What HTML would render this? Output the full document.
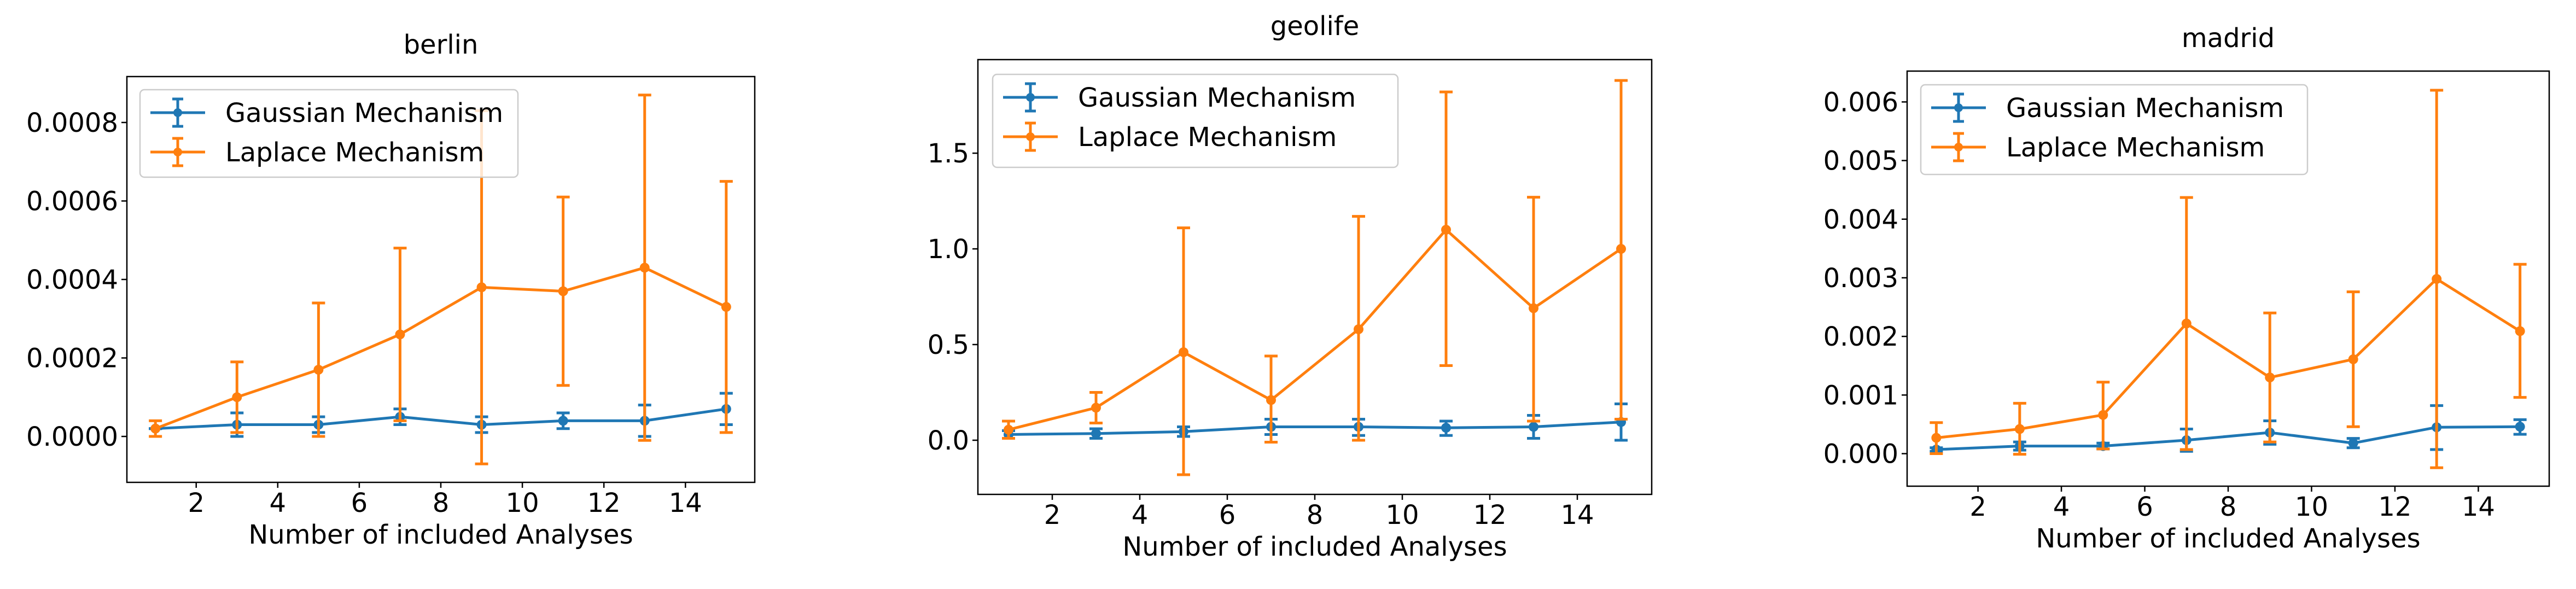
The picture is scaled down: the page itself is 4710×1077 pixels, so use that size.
<!DOCTYPE html>
<html><head><meta charset="utf-8"><style>
html,body{margin:0;padding:0;background:#fff;}
svg{display:block;font-family:"DejaVu Sans","Liberation Sans",sans-serif;}
</style></head><body>
<svg id="fig" width="4710" height="1077" viewBox="0 0 4710 1077" xmlns="http://www.w3.org/2000/svg"></svg>
<script>
const xValues = [1,3,5,7,9,11,13,15];
const xTicks = [2,4,6,8,10,12,14];
const seriesNames = ["Gaussian Mechanism","Laplace Mechanism"];
// berlin
const berlinGauss = [0.00002,0.00003,0.00003,0.00005,0.00003,0.00004,0.00004,0.00007];
const berlinGaussHi = [0.00002,0.00006,0.00005,0.00007,0.00005,0.00006,0.00008,0.00011];
const berlinGaussLo = [0.00002,0.0,0.00001,0.00003,0.00001,0.00002,0.0,0.00003];
const berlinLap = [0.00002,0.0001,0.00017,0.00026,0.00038,0.00037,0.00043,0.00033];
const berlinLapHi = [0.00004,0.00019,0.00034,0.00048,0.00083,0.00061,0.00087,0.00065];
const berlinLapLo = [0.0,0.00001,0.0,0.00004,-0.00007,0.00013,-0.00001,0.00001];
const berlinYTicks = [0,0.0002,0.0004,0.0006,0.0008];
const berlinYLabels = ["0.0000","0.0002","0.0004","0.0006","0.0008"];
// geolife
const geoGauss = [0.03,0.035,0.045,0.07,0.07,0.065,0.07,0.095];
const geoGaussHi = [0.05,0.06,0.07,0.11,0.11,0.10,0.13,0.19];
const geoGaussLo = [0.01,0.01,0.02,0.03,0.025,0.025,0.01,0.0];
const geoLap = [0.055,0.17,0.46,0.21,0.58,1.10,0.69,1.0];
const geoLapHi = [0.10,0.25,1.11,0.44,1.17,1.82,1.27,1.88];
const geoLapLo = [0.01,0.09,-0.18,-0.01,0.0,0.39,0.10,0.11];
const geoYTicks = [0,0.5,1.0,1.5];
const geoYLabels = ["0.0","0.5","1.0","1.5"];
// madrid
const madGauss = [0.00007,0.00013,0.00013,0.00023,0.00036,0.00018,0.00045,0.00046];
const madGaussHi = [0.0001,0.0002,0.00018,0.00042,0.00056,0.00026,0.00082,0.00058];
const madGaussLo = [0.00004,0.00006,0.00008,0.00004,0.00016,0.0001,0.00007,0.00033];
const madLap = [0.00027,0.00042,0.00066,0.00222,0.0013,0.00161,0.00298,0.00209];
const madLapHi = [0.00053,0.00086,0.00122,0.00437,0.0024,0.00276,0.0062,0.00323];
const madLapLo = [0.0,-0.00001,0.00008,0.00007,0.0002,0.00046,-0.00024,0.00096];
const madYTicks = [0,0.001,0.002,0.003,0.004,0.005,0.006];
const madYLabels = ["0.000","0.001","0.002","0.003","0.004","0.005","0.006"];

const NS="http://www.w3.org/2000/svg";
const svg=document.getElementById('fig');
const BLUE="#1f77b4", ORANGE="#ff7f0e";
function mk(tag,attrs,parent){const e=document.createElementNS(NS,tag);for(const k in attrs)e.setAttribute(k,attrs[k]);(parent||svg).appendChild(e);return e;}

function drawPanel(p){
  const g=mk('g',{});
  
  
  const xs=v=>p.L+(v-0.3)/(15.7-0.3)*(p.R-p.L);
  const ys=v=>p.B-(v-p.ymin)/(p.ymax-p.ymin)*(p.B-p.T);
  const t=mk('text',{x:(p.L+p.R)/2,y:p.titleY,'font-size':48,'text-anchor':'middle',fill:'#000'},g);
  t.textContent=p.title;
  
  
  const clip=mk('clipPath',{id:'clip-'+p.key},g);
  mk('rect',{x:p.L,y:p.T,width:p.R-p.L,height:p.B-p.T},clip);
  const plot=mk('g',{'clip-path':'url(#clip-'+p.key+')'},g);
  const series=[[p.g,p.gh,p.gl,BLUE,'gaussian'],[p.l,p.lh,p.ll,ORANGE,'laplace']];
  series.forEach(s=>{
    const [vals,hi,lo,col,nm]=s;
    const sg=mk('g',{},plot);
    
    
    const pts=vals.map((v,i)=>xs(xValues[i])+','+ys(v)).join(' ');
    const line=mk('polyline',{points:pts,fill:'none',stroke:col,'stroke-width':5},sg);
    
    
    vals.forEach((v,i)=>{
      const x=xs(xValues[i]);
      const eb=mk('g',{stroke:col,'stroke-width':5},sg);
      
      
      mk('line',{x1:x,x2:x,y1:ys(hi[i]),y2:ys(lo[i])},eb);
      mk('line',{x1:x-12,x2:x+12,y1:ys(hi[i]),y2:ys(hi[i])},eb);
      mk('line',{x1:x-12,x2:x+12,y1:ys(lo[i]),y2:ys(lo[i])},eb);
      const c=mk('ellipse',{cx:x,cy:ys(v),rx:9,ry:9,fill:col},sg);
      
      
    });
  });
  const fr=mk('rect',{x:p.L,y:p.T,width:p.R-p.L,height:p.B-p.T,fill:'none',stroke:'#000','stroke-width':2.5},g);
  
  
  xTicks.forEach(v=>{
    const x=xs(v);
    mk('line',{x1:x,x2:x,y1:p.B,y2:p.B+10,stroke:'#000','stroke-width':2.5},g);
    const tl=mk('text',{x:x,y:p.B+54,'font-size':48,'text-anchor':'middle'},g);
    tl.textContent=v;
    
    
  });
  p.yt.forEach((v,i)=>{
    const y=ys(v);
    mk('line',{x1:p.L-10,x2:p.L,y1:y,y2:y,stroke:'#000','stroke-width':2.5},g);
    const tl=mk('text',{x:p.L-16,y:y+17,'font-size':48,'text-anchor':'end'},g);
    tl.textContent=p.yl[i];
    
    
  });
  const xl=mk('text',{x:(p.L+p.R)/2,y:p.B+112,'font-size':48,'text-anchor':'middle'},g);
  xl.textContent="Number of included Analyses";
  
  
  const lg=mk('g',{},g);
  
  
  mk('rect',{x:p.lx,y:p.ly,width:p.lw,height:p.legH,rx:8,fill:'#fff','fill-opacity':0.8,stroke:'#cccccc','stroke-width':2.5},lg);
  [BLUE,ORANGE].forEach((col,i)=>{
    const cy=p.ly+42+i*72;
    const le=mk('g',{},lg);
    
    
    const hx=p.lx+19, mx=hx+50;
    mk('line',{x1:hx,x2:hx+100,y1:cy,y2:cy,stroke:col,'stroke-width':5},le);
    mk('line',{x1:mx,x2:mx,y1:cy-25,y2:cy+25,stroke:col,'stroke-width':5},le);
    mk('line',{x1:mx-10,x2:mx+10,y1:cy-25,y2:cy-25,stroke:col,'stroke-width':5},le);
    mk('line',{x1:mx-10,x2:mx+10,y1:cy+25,y2:cy+25,stroke:col,'stroke-width':5},le);
    mk('ellipse',{cx:mx,cy:cy,rx:8,ry:8,fill:col},le);
    const tx=mk('text',{x:p.lx+156,y:cy+17,'font-size':48},le);
    tx.textContent=seriesNames[i];
  });
}

drawPanel({key:'berlin',title:'berlin',titleY:98,L:232,R:1380,T:140,B:882,ymin:-0.000117,ymax:0.000917,
  g:berlinGauss,gh:berlinGaussHi,gl:berlinGaussLo,l:berlinLap,lh:berlinLapHi,ll:berlinLapLo,yt:berlinYTicks,yl:berlinYLabels,
  lx:256,ly:164,lw:691,legH:160});
drawPanel({key:'geolife',title:'geolife',titleY:64,L:1788,R:3020,T:109,B:904,ymin:-0.283,ymax:1.989,
  g:geoGauss,gh:geoGaussHi,gl:geoGaussLo,l:geoLap,lh:geoLapHi,ll:geoLapLo,yt:geoYTicks,yl:geoYLabels,
  lx:1815,ly:136,lw:741,legH:170});
drawPanel({key:'madrid',title:'madrid',titleY:86,L:3487,R:4661,T:130,B:889,ymin:-0.000555,ymax:0.006526,
  g:madGauss,gh:madGaussHi,gl:madGaussLo,l:madLap,lh:madLapHi,ll:madLapLo,yt:madYTicks,yl:madYLabels,
  lx:3512,ly:155,lw:707,legH:164});
</script>
</body></html>
